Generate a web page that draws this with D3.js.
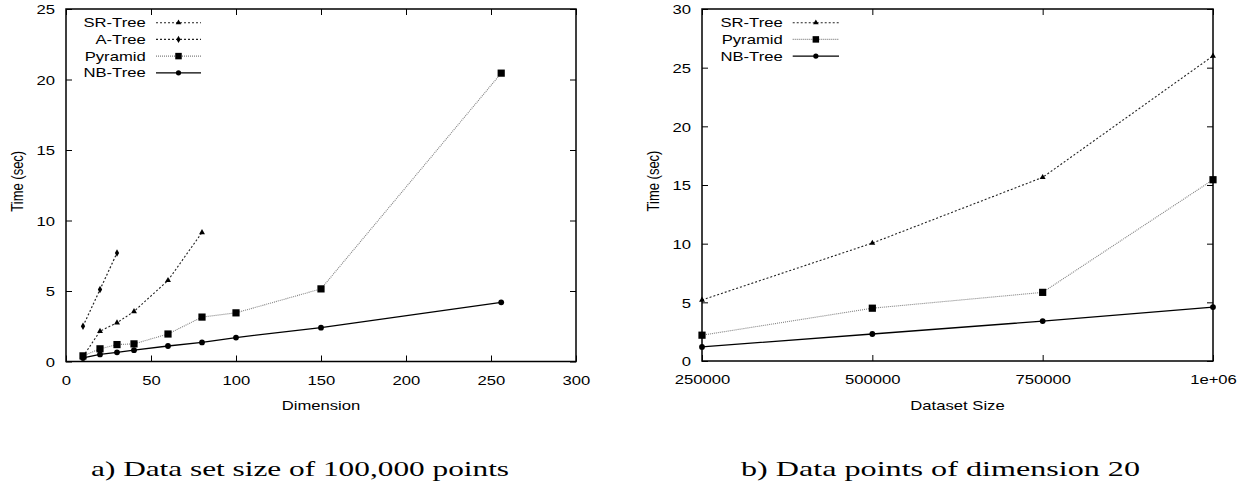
<!DOCTYPE html>
<html>
<head>
<meta charset="utf-8">
<script src="https://cdn.jsdelivr.net/npm/d3@7"></script>
<style>
  html, body { margin: 0; padding: 0; background: #fff; }
  svg { display: block; }
</style>
</head>
<body>
<svg id="chart" width="1258" height="481"></svg>
<script>
// ---------- DATA ----------
// Panel a) Data set size of 100,000 points
const dimsSR = [10, 20, 30, 40, 60, 80];
const srTimesA = [0.35, 2.15, 2.75, 3.55, 5.75, 9.15];
const dimsATree = [10, 20, 30];
const aTreeTimes = [2.5, 5.1, 7.7];
const dimsAll = [10, 20, 30, 40, 60, 80, 100, 150, 256];
const pyramidTimesA = [0.4, 0.9, 1.2, 1.25, 1.95, 3.15, 3.45, 5.15, 20.45];
const nbTimesA = [0.25, 0.5, 0.65, 0.8, 1.1, 1.35, 1.7, 2.4, 4.2];
const xTicksA = [0, 50, 100, 150, 200, 250, 300];
const yTicksA = [0, 5, 10, 15, 20, 25];

// Panel b) Data points of dimension 20
const sizesB = [250000, 500000, 750000, 1000000];
const srTimesB = [5.2, 10.05, 15.65, 26.0];
const pyramidTimesB = [2.2, 4.5, 5.85, 15.45];
const nbTimesB = [1.2, 2.3, 3.4, 4.6];
const xTicksB = [250000, 500000, 750000, 1000000];
const xTickLabelsB = ["250000", "500000", "750000", "1e+06"];
const yTicksB = [0, 5, 10, 15, 20, 25, 30];

const legendA = ["SR-Tree", "A-Tree", "Pyramid", "NB-Tree"];
const legendB = ["SR-Tree", "Pyramid", "NB-Tree"];
const captions = ["a) Data set size of 100,000 points", "b) Data points of dimension 20"];
const xTitles = ["Dimension", "Dataset Size"];
const yTitle = "Time (sec)";

// ---------- STYLE ----------
const SX = 1.28;               // horizontal stretch of the reference text
const SANS = "'Liberation Sans', Arial, Helvetica, sans-serif";
const SERIF = "'Liberation Serif', 'Times New Roman', serif";
const styles = {
  "SR-Tree": { stroke: "#222", dash: "2,2", width: 1.1, marker: "triangle" },
  "A-Tree":  { stroke: "#222", dash: "2,2", width: 1.2, marker: "diamond" },
  "Pyramid": { stroke: "#808080", dash: "1,1", width: 1.1, marker: "square" },
  "NB-Tree": { stroke: "#000", dash: null, width: 1.3, marker: "circle" }
};

const svg = d3.select("#chart");

function drawMarker(g, type, cx, cy, scale = 1) {
  if (type === "square") {
    const s = 7.2 * scale;
    g.append("rect").attr("x", cx - s / 2).attr("y", cy - s / 2)
      .attr("width", s).attr("height", s).attr("fill", "#000");
  } else if (type === "circle") {
    g.append("circle").attr("cx", cx).attr("cy", cy).attr("r", 2.9 * scale).attr("fill", "#000");
  } else if (type === "triangle") {
    g.append("path").attr("d", d3.symbol(d3.symbolTriangle, 15 * scale)())
      .attr("transform", `translate(${cx},${cy})`).attr("fill", "#000");
  } else if (type === "diamond") {
    g.append("path").attr("d", d3.symbol(d3.symbolDiamond, 16 * scale)())
      .attr("transform", `translate(${cx},${cy})`).attr("fill", "#000");
  }
}

function stretchedText(g, txt, x, y, anchor, size, family) {
  return g.append("text")
    .attr("transform", `translate(${x},${y}) scale(${SX},1)`)
    .attr("text-anchor", anchor)
    .attr("font-family", family || SANS)
    .attr("font-size", size)
    .attr("fill", "#000")
    .text(txt);
}

function panel(cfg) {
  const g = svg.append("g");
  const x = d3.scaleLinear().domain(cfg.xDomain).range(cfg.xRange);
  const y = d3.scaleLinear().domain(cfg.yDomain).range(cfg.yRange);
  const [x0, x1] = cfg.xRange, [y0, y1] = cfg.yRange;

  const tickLen = 6;
  const fmt = cfg.xFormat;
  const bottom = g.append("g").attr("transform", `translate(0,${y0})`)
    .call(d3.axisBottom(x).tickValues(cfg.xTicks).tickSizeInner(-tickLen).tickSizeOuter(0).tickPadding(14).tickFormat(fmt));
  const top = g.append("g").attr("transform", `translate(0,${y1})`)
    .call(d3.axisTop(x).tickValues(cfg.xTicks).tickSizeInner(-tickLen).tickSizeOuter(0).tickFormat(""));
  const left = g.append("g").attr("transform", `translate(${x0},0)`)
    .call(d3.axisLeft(y).tickValues(cfg.yTicks).tickSizeInner(-tickLen).tickSizeOuter(0).tickPadding(11));
  const right = g.append("g").attr("transform", `translate(${x1},0)`)
    .call(d3.axisRight(y).tickValues(cfg.yTicks).tickSizeInner(-tickLen).tickSizeOuter(0).tickFormat(""));

  [bottom, top, left, right].forEach(a => {
    a.select(".domain").remove();
    a.selectAll(".tick line").attr("stroke", "#000").attr("stroke-width", 1);
  });
  bottom.selectAll(".tick text")
    .attr("font-family", SANS).attr("font-size", 13).attr("fill", "#000")
    .attr("y", 14).attr("dy", "0.71em")
    .attr("transform", `scale(${SX},1)`);
  left.selectAll(".tick text")
    .attr("font-family", SANS).attr("font-size", 13).attr("fill", "#000")
    .attr("x", -11 / SX).attr("dy", "0.36em")
    .attr("transform", `scale(${SX},1)`);

  g.append("rect").attr("x", x0).attr("y", y1).attr("width", x1 - x0).attr("height", y0 - y1)
    .attr("fill", "none").attr("stroke", "#000").attr("stroke-width", 1.5);

  const line = d3.line().x(d => x(d[0])).y(d => y(d[1]));
  cfg.series.forEach(s => {
    const st = styles[s.name];
    const pts = s.xs.map((v, i) => [v, s.ys[i]]);
    g.append("path").datum(pts).attr("d", line)
      .attr("fill", "none").attr("stroke", st.stroke).attr("stroke-width", st.width)
      .attr("stroke-dasharray", st.dash);
    pts.forEach(p => drawMarker(g, st.marker, x(p[0]), y(p[1])));
  });

  cfg.legend.forEach((name, i) => {
    const st = styles[name];
    const ly = cfg.legendY0 + i * 16.7;
    stretchedText(g, name, cfg.legendTextX, ly, "end", 13).attr("dy", "0.36em");
    g.append("line").attr("x1", cfg.legendLineX[0]).attr("x2", cfg.legendLineX[1])
      .attr("y1", ly).attr("y2", ly)
      .attr("stroke", st.stroke).attr("stroke-width", st.width).attr("stroke-dasharray", st.dash);
    drawMarker(g, st.marker, (cfg.legendLineX[0] + cfg.legendLineX[1]) / 2, ly, 0.9);
  });

  stretchedText(g, cfg.xTitle, (x0 + x1) / 2, 410, "middle", 13);
  g.append("text")
    .attr("transform", `translate(${cfg.yTitleX},${(y0 + y1) / 2 - 4}) scale(${SX},1) rotate(-90)`)
    .attr("text-anchor", "middle").attr("font-family", SANS).attr("font-size", 13)
    .attr("dy", "0.36em").text(yTitle);

  g.append("text").attr("x", cfg.capX).attr("y", 476)
    .attr("font-family", SERIF).attr("font-size", 22)
    .attr("textLength", cfg.capW).attr("lengthAdjust", "spacingAndGlyphs")
    .text(cfg.caption);
}

panel({
  xDomain: [0, 300], xRange: [66, 576], yDomain: [0, 25], yRange: [361.5, 9],
  xTicks: xTicksA, yTicks: yTicksA, xFormat: d3.format("d"),
  series: [
    { name: "SR-Tree", xs: dimsSR, ys: srTimesA },
    { name: "A-Tree", xs: dimsATree, ys: aTreeTimes },
    { name: "Pyramid", xs: dimsAll, ys: pyramidTimesA },
    { name: "NB-Tree", xs: dimsAll, ys: nbTimesA }
  ],
  legend: legendA, legendY0: 22.7, legendTextX: 145.7, legendLineX: [156, 201],
  xTitle: xTitles[0], yTitleX: 17,
  caption: captions[0], capX: 91, capW: 418
});

panel({
  xDomain: [250000, 1000000], xRange: [702, 1213], yDomain: [0, 30], yRange: [361, 9],
  xTicks: xTicksB, yTicks: yTicksB, xFormat: (d, i) => xTickLabelsB[i],
  series: [
    { name: "SR-Tree", xs: sizesB, ys: srTimesB },
    { name: "Pyramid", xs: sizesB, ys: pyramidTimesB },
    { name: "NB-Tree", xs: sizesB, ys: nbTimesB }
  ],
  legend: legendB, legendY0: 22.7, legendTextX: 782.7, legendLineX: [792.7, 839],
  xTitle: xTitles[1], yTitleX: 653,
  caption: captions[1], capX: 741, capW: 399
});
</script>
</body>
</html>
